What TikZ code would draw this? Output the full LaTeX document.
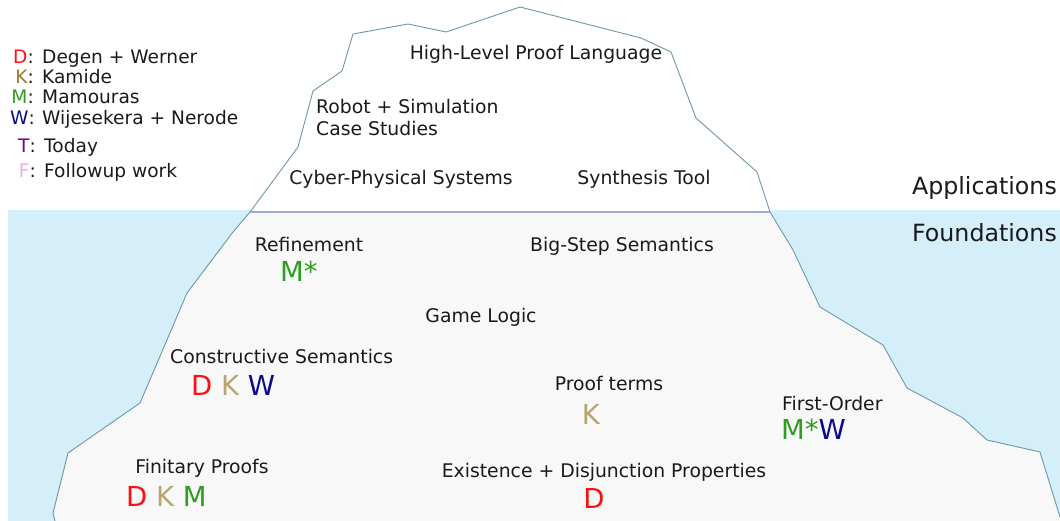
\documentclass[tikz,border=0pt]{standalone}
\usepackage{fontspec}
\setmainfont{DejaVu Sans}
\usepackage{xcolor}
\usepackage{tikz}
\usetikzlibrary{positioning}
\definecolor{ink}{HTML}{1A1A1A}
\definecolor{cD}{HTML}{FF1010}
\definecolor{cK}{HTML}{B5A672}
\definecolor{cKkey}{HTML}{A07828}
\definecolor{cM}{HTML}{2E9E1E}
\definecolor{cW}{HTML}{0C0C8A}
\definecolor{cT}{HTML}{800080}
\definecolor{cF}{HTML}{F0A8E8}
\definecolor{sea}{HTML}{D4EFFA}
\definecolor{under}{HTML}{F8F8F8}
\definecolor{rim}{HTML}{6F97A8}
\definecolor{surface}{HTML}{9DAACB}
\tikzstyle{topic}   = [inner sep=0pt, text=ink, font=\fontsize{18.8}{22}\selectfont]
\tikzstyle{authors} = [inner sep=0pt, font=\fontsize{27.5}{30}\selectfont]
\tikzstyle{layer}   = [inner sep=0pt, text=ink, font=\fontsize{23.7}{26}\selectfont]
\tikzstyle{key}     = [inner sep=0pt, text=ink, font=\fontsize{18.6}{20}\selectfont]
\tikzstyle{ice}     = [draw=rim, line width=0.9pt, line join=round]
\begin{document}
\begin{tikzpicture}[x=1pt, y=-1pt]
        \useasboundingbox (0,0) rectangle (1060,521);
        \fill [sea] (8,210) rectangle (1060,521);
        \fill [under] (250,212) -- (233,232) -- (187,293) -- (140,403) -- (68,453) -- (53,513) -- (55,521)
            -- (1060,521) -- (1060,517) -- (1040,452) -- (987,440) -- (963,418) -- (907,388) -- (883,345)
            -- (820,307) -- (793,250) -- (770,212) -- cycle;
        \draw [ice] (250,212) -- (233,232) -- (187,293) -- (140,403) -- (68,453) -- (53,513) -- (55,521);
        \draw [ice] (770,212) -- (793,250) -- (820,307) -- (883,345) -- (907,388) -- (963,418) -- (987,440)
            -- (1040,452) -- (1060,517);
        \filldraw [ice, fill=white] (250,212) -- (298,147) -- (313,91) -- (342,71) -- (353,34) -- (408,24)
            -- (446,32) -- (520,7) -- (641,38) -- (671,52) -- (696,118) -- (757,172) -- (770,212);
        \draw [surface, line width=2pt] (250,212) -- (770,212);

        \node [key, anchor=base east] (kD) at (34,64) {\textcolor{cD}{D}:};
        \node [key, anchor=base west] (lD) at (42,64) {Degen + Werner};
        \node [key, anchor=base east] (kK) at (34,84) {\textcolor{cKkey}{K}:};
        \node [key, anchor=base west] (lK) at (42,84) {Kamide};
        \node [key, anchor=base east] (kM) at (34,104) {\textcolor{cM}{M}:};
        \node [key, anchor=base west] (lM) at (42,104) {Mamouras};
        \node [key, anchor=base east] (kW) at (35,125) {\textcolor{cW}{W}:};
        \node [key, anchor=base west] (lW) at (42,125) {Wijesekera + Nerode};
        \node [key, anchor=base east] (kT) at (36,153) {\textcolor{cT}{T}:};
        \node [key, anchor=base west] (lT) at (44,153) {Today};
        \node [key, anchor=base east] (kF) at (36,178) {\textcolor{cF}{F}:};
        \node [key, anchor=base west] (lF) at (44,178) {Followup work};

        \node [topic, anchor=base] (hlpl) at (536,60) {High-Level Proof Language};
        \node [topic, anchor=north west, align=left] (robot) at (316,99) {Robot + Simulation\\Case Studies};
        \node [topic, anchor=base] (cps) at (401,185) {Cyber-Physical Systems};
        \node [topic, anchor=base] (synth) at (644,185) {Synthesis Tool};
        \node [layer, anchor=base east] (apps) at (1057,195) {Applications};
        \node [layer, anchor=base east] (found) at (1057,242) {Foundations};

        \node [topic, anchor=base] (refine) at (309,252) {Refinement};
        \node [authors, anchor=base west] (refineA) at (280,282) {\textcolor{cM}{M*}};
        \node [topic, anchor=base] (bigstep) at (622,252) {Big-Step Semantics};
        \node [topic, anchor=base] (game) at (481,323) {Game Logic};
        \node [topic, anchor=base west] (constr) at (170,363) {Constructive Semantics};
        \node [authors, anchor=base west] (constrA) at (191,395) {\textcolor{cD}{D} \textcolor{cK}{K} \textcolor{cW}{W}};
        \node [topic, anchor=base] (pterms) at (609,390) {Proof terms};
        \node [authors, anchor=base] (ptermsA) at (591,424) {\textcolor{cK}{K}};
        \node [topic, anchor=base west] (fo) at (782,410) {First-Order};
        \node [authors, anchor=base west] (foA) at (781,439) {\textcolor{cM}{M*}\textcolor{cW}{W}};
        \node [topic, anchor=base] (finit) at (202,473) {Finitary Proofs};
        \node [authors, anchor=base west] (finitA) at (126,506) {\textcolor{cD}{D} \textcolor{cK}{K} \textcolor{cM}{M}};
        \node [topic, anchor=base] (exist) at (604,477) {Existence + Disjunction Properties};
        \node [authors, anchor=base] (existA) at (594,508) {\textcolor{cD}{D}};
\end{tikzpicture}
\end{document}
